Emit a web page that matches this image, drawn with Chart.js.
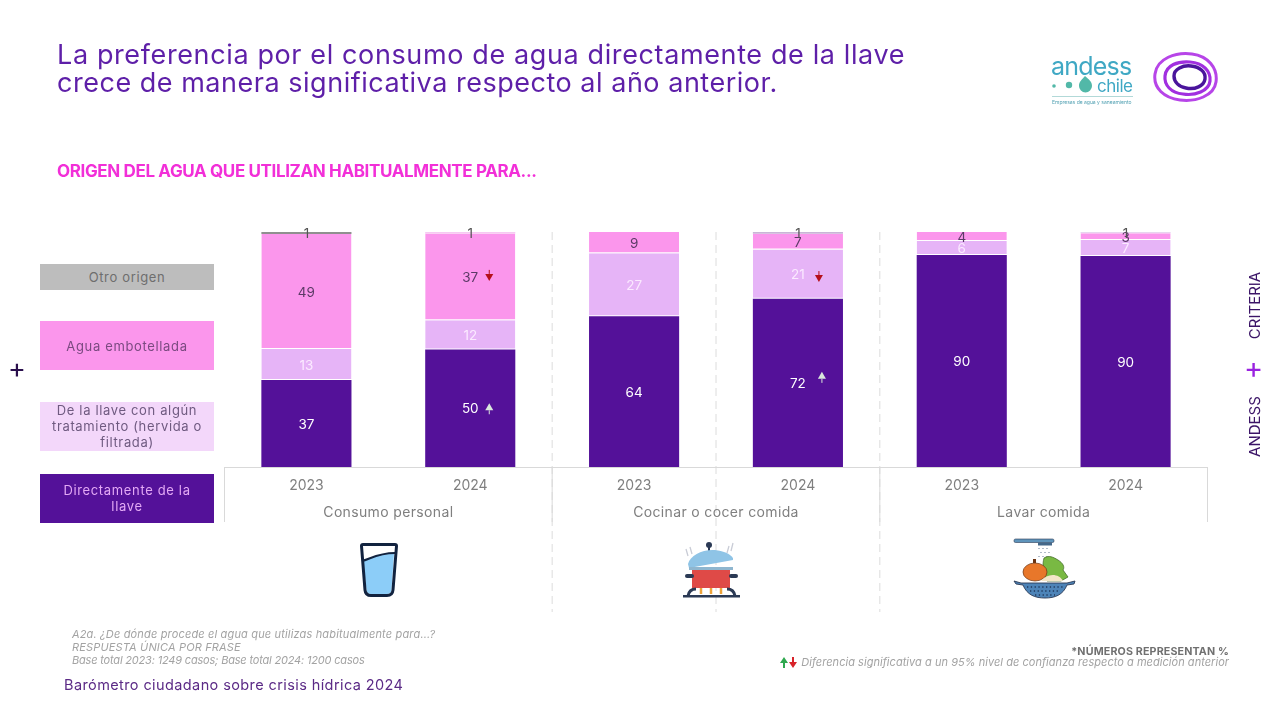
<!DOCTYPE html>
<html lang="es">
<head>
<meta charset="utf-8">
<title>Barómetro ciudadano sobre crisis hídrica 2024</title>
<script src="https://cdn.jsdelivr.net/npm/chart.js@4"></script>
<style>
  html, body { margin: 0; padding: 0; background: #fff; width: 1274px; height: 711px; overflow: hidden; }
  body { font-family: Inter, "Open Sans", sans-serif; position: relative; }
  #myChart { position: absolute; left: 0; top: 0; }
  .abs { position: absolute; white-space: nowrap; }
  .title { left: 57px; top: 41px; font-size: 27px; line-height: 28px; color: #5e1fa8; letter-spacing: .62px; }
  .sub { left: 57px; top: 161px; font-size: 17px; line-height: 20px; font-weight: 700; color: #f22fd8; letter-spacing: -.37px; }
  .box { position: absolute; left: 40px; width: 174px; box-sizing: border-box; padding-bottom: 2px; display: flex; align-items: center; justify-content: center; text-align: center; font-size: 13px; line-height: 16px; letter-spacing: .65px; }
  .note { font-size: 11px; line-height: 13px; font-style: italic; color: #a3a3a3; letter-spacing: .16px; }
  .vert { transform: rotate(-90deg); transform-origin: center; font-size: 15px; color: #3b1467; }
</style>
</head>
<body>
<canvas id="myChart" width="1274" height="711"></canvas>

<div class="abs title">La preferencia por el consumo de agua directamente de la llave<br><span style="letter-spacing:.52px">crece de manera significativa respecto al año anterior.</span></div>
<div class="abs sub">ORIGEN DEL AGUA QUE UTILIZAN HABITUALMENTE PARA...</div>

<div class="box" style="top:264px;height:26px;padding-bottom:0;background:#bdbdbd;color:#6e6e6e">Otro origen</div>
<div class="box" style="top:321px;height:49px;padding-bottom:0;background:#fb96ec;color:#7a4a80">Agua embotellada</div>
<div class="box" style="top:402px;height:49px;background:#f3d7fa;color:#6f5a80">De la llave con algún<br>tratamiento (hervida o<br>filtrada)</div>
<div class="box" style="top:474px;height:49px;background:#541199;color:#e3a9f5">Directamente de la<br>llave</div>

<div class="abs" style="left:8px;top:353px;font-size:27px;line-height:32px;color:#2a0f4d;">+</div>
<div class="abs" style="left:1244px;top:352px;font-size:29px;line-height:32px;color:#9a22e0;">+</div>
<div class="abs vert" style="left:1223px;top:417px;width:62px;text-align:center;">ANDESS</div>
<div class="abs vert" style="left:1219px;top:296px;width:70px;text-align:center;">CRITERIA</div>

<div class="abs note" style="left:72px;top:628px;">A2a. ¿De dónde procede el agua que utilizas habitualmente para...?<br>RESPUESTA ÚNICA POR FRASE<br><span style="letter-spacing:-.18px">Base total 2023: 1249 casos; Base total 2024: 1200 casos</span></div>
<div class="abs" style="left:64px;top:676px;font-size:14.5px;line-height:18px;color:#5b2a86;letter-spacing:.4px;">Barómetro ciudadano sobre crisis hídrica 2024</div>
<div class="abs" style="right:45px;top:645px;font-size:10.7px;line-height:14px;font-weight:700;color:#707070;letter-spacing:.15px;">*NÚMEROS REPRESENTAN %</div>
<div class="abs note" style="right:45px;top:656px;letter-spacing:.04px;">Diferencia significativa a un 95% nivel de confianza respecto a medición anterior</div>

<!-- flechas de la nota -->
<svg class="abs" style="left:779px;top:656px" width="20" height="13" viewBox="0 0 20 13">
  <path d="M1 7 5 1 9 7H6V12H4V7Z" fill="#2fa84f"/><path d="M10 6 14 12 18 6H15V1H13V6Z" fill="#d8232a"/>
</svg>

<!-- vaso -->
<svg class="abs" style="left:358px;top:541px" width="42" height="57" viewBox="0 0 42 57">
  <path d="M5 19 C12 18 20 12 36 13 L33.500 49 Q33 53 29 53 H13 Q9 53 8.500 49Z" fill="#8ccdf8"/>
  <path d="M4 20 C12 18 20 12 37 12" fill="none" stroke="#12233f" stroke-width="2"/>
  <path d="M3.500 5 Q3.500 3.500 5 3.500 H37 Q38.500 3.500 38.500 5 L35 49 Q34.500 54.500 29 54.500 H13 Q7.500 54.500 7 49Z" fill="none" stroke="#12233f" stroke-width="3"/>
</svg>
<!-- olla -->
<svg class="abs" style="left:683px;top:541px" width="58" height="58" viewBox="0 0 58 58">
  <path d="M3 8 5 15M7 6 9 13M46 5 44 12M50 2 48 10" stroke="#c9ccd6" stroke-width="1.300" fill="none"/>
  <circle cx="26" cy="4" r="3" fill="#2b3a55"/><rect x="25" y="5" width="2" height="5" fill="#2b3a55"/>
  <path d="M5 23 C7 14 20 8 32 9 C40 10 46 12 50 17 L50 19 L6 27Z" fill="#8fc4e6"/>
  <rect x="6" y="26" width="44" height="3" fill="#8fb6cf"/>
  <rect x="9" y="29" width="38" height="18" fill="#df4a47"/>
  <rect x="2" y="33" width="9" height="4" rx="2" fill="#2b3a55"/><rect x="46" y="33" width="9" height="4" rx="2" fill="#2b3a55"/>
  <path d="M18 53V47M28 53V47M38 53V47" stroke="#eda33a" stroke-width="2.500"/>
  <path d="M5 55 C6 49 10 48 13 48M52 55 C51 49 47 48 44 48" stroke="#2b3a55" stroke-width="3" fill="none"/>
  <rect x="0" y="54" width="57" height="2.500" fill="#2b3a55"/>
</svg>
<!-- colador -->
<svg class="abs" style="left:1013px;top:537px" width="64" height="63" viewBox="0 0 64 63">
  <rect x="1" y="2" width="40" height="3.500" rx="1.500" fill="#5e94bb" stroke="#2b3a55" stroke-width=".6"/>
  <rect x="25" y="5.500" width="14" height="3" fill="#44688a"/>
  <path d="M26 11v1M30 11v1M34 11v1M28 15v1M32 15v1M36 15v1M26 19v1M30 19v1M34 19v1" stroke="#7f8fa5" stroke-width="1.200"/>
  <path d="M31 21 C36 18 40 20 45 23 C50 26 52 30 50 33 L55 40 L48 44 H34 C30 36 29 28 31 21Z" fill="#79b943" stroke="#39621f" stroke-width=".7"/>
  <ellipse cx="22" cy="35" rx="12" ry="9" fill="#e8772a" stroke="#6b3413" stroke-width=".7"/>
  <path d="M20 26 20 22 23 22 23 26Z" fill="#6b3413"/>
  <path d="M28 44 C34 36 46 36 50 44Z" fill="#f3e6c8"/>
  <path d="M1 44 8 46 H54 L62 44 61 47 54 48 C50 58 42 61 32 61 22 61 14 58 10 48 L3 47Z" fill="#4d84b8" stroke="#2b3a55" stroke-width=".9"/>
  <path d="M14 50h36M17 54h30M22 58h20" stroke="#20395c" stroke-width="1.300" stroke-dasharray="1.300 2.500"/>
</svg>

<!-- logos -->
<svg class="abs" style="left:1048px;top:48px" width="90" height="62" viewBox="0 0 90 62">
  <text x="3" y="27" font-family="Inter, sans-serif" font-size="25" letter-spacing="-.8" fill="#3fa8c4">andess</text>
  <text x="49" y="44" font-family="Inter, sans-serif" font-size="17" letter-spacing="-.5" fill="#3fa8c4">chile</text>
  <circle cx="6" cy="38" r="1.800" fill="#52b8a8"/><circle cx="21" cy="37" r="3.200" fill="#52b8a8"/><path d="M37 28 C41 32 44 33 44 38 A6.500 6.500 0 1 1 31 38 C31 33 34 32 37 28Z" fill="#52b8a8"/>
  <rect x="4" y="48" width="81" height=".8" fill="#9fd0cf"/>
  <text x="4" y="55.500" font-family="Inter, sans-serif" font-size="5" fill="#4e9fb1">Empresas de agua y saneamiento</text>
</svg>
<svg class="abs" style="left:1152px;top:50px" width="67" height="54" viewBox="0 0 67 54">
  <path d="M3 24 C5 8 24 2 40 4 C56 6 66 18 64 32 C62 46 44 52 28 50 C12 48 1 38 3 24Z" fill="none" stroke="#b745e8" stroke-width="3"/>
  <path d="M13 26 C14 15 26 11 38 12 C51 13 59 21 58 31 C57 41 43 46 31 44 C19 43 12 35 13 26Z" fill="none" stroke="#a12fe0" stroke-width="3.200"/>
  <path d="M22 26 C22 19 31 15 39 16 C48 17 54 22 53 29 C52 36 43 40 34 38 C27 37 22 32 22 26Z" fill="none" stroke="#4a159c" stroke-width="3.400"/>
</svg>

<script>
// datos
const years = ["2023", "2024", "2023", "2024", "2023", "2024"];
const groups = ["Consumo personal", "Cocinar o cocer comida", "Lavar comida"];
const directa = [37, 50, 64.2, 71.6, 90.2, 89.8];
const tratada = [13.2, 12.4, 26.8, 21, 6, 6.8];
const embotellada = [49, 37, 9, 6.7, 3.8, 2.9];
const otro = [0.8, 0.6, 0, 0.7, 0, 0.5];
// flechas de diferencia significativa: serie, columna, direccion
const sigSerie = [0, 0, 1, 2];
const sigCol = [1, 3, 3, 1];
const sigDir = ["up", "up", "down", "down"];
// ajuste de cada flecha respecto al centro de la etiqueta
const sigDx = [19, 24, 21, 19];
const sigDy = [0, -6, 3, -1];

const labelColors = ["#ffffff", "#fbeaff", "#5b3a66", "#555555"];
const otroColors = ["#8f8f8f", "#f6c9f2", "#8f8f8f", "#c9b5d6", "#8f8f8f", "#e8d5ef"];

const barLabels = {
  id: "barLabels",
  afterDatasetsDraw(chart) {
    const ctx = chart.ctx;
    ctx.save();
    ctx.font = "13.5px Inter, sans-serif";
    ctx.textAlign = "center";
    ctx.textBaseline = "middle";
    chart.data.datasets.forEach((ds, i) => {
      chart.getDatasetMeta(i).data.forEach((bar, j) => {
        if (!ds.data[j]) return;
        ctx.fillStyle = labelColors[i];
        ctx.fillText(Math.round(ds.data[j]), bar.x, (bar.y + bar.base) / 2 + 1);
      });
    });
    // flechas
    sigSerie.forEach((s, k) => {
      const bar = chart.getDatasetMeta(s).data[sigCol[k]];
      const x = bar.x + sigDx[k];
      const y = (bar.y + bar.base) / 2 + sigDy[k];
      const d = sigDir[k] === "up" ? 1 : -1;
      ctx.fillStyle = sigDir[k] === "up" ? "#d9e8dc" : "#b5101a";
      ctx.beginPath();
      ctx.moveTo(x, y - 5 * d);
      ctx.lineTo(x + 4, y + 2 * d);
      ctx.lineTo(x - 4, y + 2 * d);
      ctx.closePath();
      ctx.fill();
      ctx.fillRect(x - 0.5, y + (d > 0 ? 2 : -6), 1, 4);
    });
    ctx.restore();
  }
};

const groupAxis = {
  id: "groupAxis",
  beforeDatasetsDraw(chart) {
    const ctx = chart.ctx;
    const sx = chart.scales.x;
    const area = chart.chartArea;
    const step = sx.getPixelForValue(1) - sx.getPixelForValue(0);
    ctx.save();
    // separadores punteados, bajan hasta los iconos
    ctx.strokeStyle = "#dcdcdc";
    ctx.lineWidth = 1;
    ctx.setLineDash([8, 5]);
    [2, 3, 4].forEach(i => {
      const x = sx.getPixelForValue(i) - step / 2;
      ctx.beginPath();
      ctx.moveTo(x, area.top);
      ctx.lineTo(x, 612);
      ctx.stroke();
    });
    ctx.setLineDash([]);
    // caja del eje
    ctx.strokeStyle = "#d9d9d9";
    ctx.beginPath();
    ctx.moveTo(area.left, area.bottom + 0.5);
    ctx.lineTo(area.right, area.bottom + 0.5);
    [0, 2, 4, 6].forEach(i => {
      const x = sx.getPixelForValue(i) - step / 2;
      ctx.moveTo(x, area.bottom);
      ctx.lineTo(x, area.bottom + 55);
    });
    ctx.stroke();
    // nombre de cada grupo
    ctx.font = "14px Inter, sans-serif";
    ctx.letterSpacing = "0.35px";
    ctx.fillStyle = "#7f7f7f";
    ctx.textAlign = "center";
    ctx.textBaseline = "middle";
    groups.forEach((g, i) => {
      ctx.fillText(g, sx.getPixelForValue(i * 2) + step / 2, area.bottom + 46);
    });
    ctx.restore();
  }
};

const barStyle = {
  borderColor: "#ffffff",
  borderWidth: { top: 0, left: 0, right: 0, bottom: 1 },
  borderSkipped: false,
  barPercentage: 1,
  categoryPercentage: 0.55
};

new Chart(document.getElementById("myChart").getContext("2d"), {
  type: "bar",
  data: {
    labels: years,
    datasets: [
      { label: "Directamente de la llave", data: directa, backgroundColor: "#541199", ...barStyle, borderWidth: 0 },
      { label: "De la llave con algún tratamiento (hervida o filtrada)", data: tratada, backgroundColor: "#e6b4f7", ...barStyle },
      { label: "Agua embotellada", data: embotellada, backgroundColor: "#fb96ec", ...barStyle },
      { label: "Otro origen", data: otro, backgroundColor: otroColors, ...barStyle, borderWidth: 0 }
    ]
  },
  options: {
    responsive: false,
    animation: false,
    layout: { padding: { left: 224.5, right: 66.5, top: 232, bottom: 194 } },
    plugins: { legend: { display: false }, tooltip: { enabled: false } },
    scales: {
      x: {
        stacked: true,
        grid: { display: false },
        border: { display: false },
        afterFit(scale) { scale.height = 50; },
        ticks: { color: "#7f7f7f", font: { family: "Inter, sans-serif", size: 14 }, padding: 2, maxRotation: 0 }
      },
      y: { stacked: true, display: false, min: 0, max: 100 }
    }
  },
  plugins: [groupAxis, barLabels]
});
</script>
</body>
</html>
